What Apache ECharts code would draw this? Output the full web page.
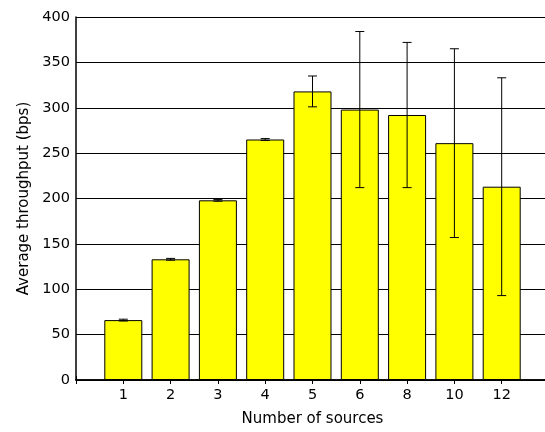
<!DOCTYPE html>
<html>
<head>
<meta charset="utf-8">
<script src="https://cdn.jsdelivr.net/npm/echarts@6/dist/echarts.min.js"></script>
<style>html,body{margin:0;padding:0;background:#fff;overflow:hidden;}#c{width:560px;height:432px;}</style>
</head>
<body>
<div id="c"></div>
<script>
var categories = ['1', '2', '3', '4', '5', '6', '8', '10', '12'];
var throughput = [66, 133, 198, 265, 318, 298, 292, 261, 213];
var errors = [1, 1, 1, 1, 17, 86, 80, 104, 120];
var yTicks = [0, 50, 100, 150, 200, 250, 300, 350, 400];

var barData = throughput.map(function (v, i) { return [i + 1, v]; });
var errData = throughput.map(function (v, i) { return [i + 1, v - errors[i], v + errors[i]]; });

var chart = echarts.init(document.getElementById('c'), null, {renderer: 'canvas'});
var font = 'DejaVu Sans, sans-serif';
chart.setOption({
  animation: false,
  backgroundColor: '#fff',
  grid: {left: 76, top: 17, width: 473, height: 365, containLabel: false},
  xAxis: [{
    type: 'value', min: 0, max: 10, interval: 1,
    name: 'Number of sources', nameLocation: 'middle', nameGap: 32,
    nameTextStyle: {fontFamily: font, fontSize: 15, color: '#000'},
    axisLine: {show: true, onZero: false, lineStyle: {color: '#000', width: 1.5}},
    axisTick: {show: true, inside: true, length: 4, lineStyle: {color: '#000'}},
    splitLine: {show: false},
    axisLabel: {
      margin: 8, fontFamily: font, fontSize: 14.5, color: '#000',
      formatter: function (v) { return (v >= 1 && v <= categories.length) ? categories[v - 1] : ''; }
    }
  }, {
    type: 'value', min: 0, max: 10, interval: 1, position: 'top',
    axisLine: {show: true, lineStyle: {color: '#000', width: 1.5}},
    axisTick: {show: true, inside: true, length: 4, lineStyle: {color: '#000'}},
    axisLabel: {show: false}, splitLine: {show: false}
  }],
  yAxis: {
    type: 'value', min: yTicks[0], max: yTicks[yTicks.length - 1], interval: 50,
    name: 'Average throughput (bps)', nameLocation: 'middle', nameGap: 43,
    nameTextStyle: {fontFamily: font, fontSize: 15, color: '#000'},
    axisLine: {show: true, lineStyle: {color: '#000', width: 1.5}},
    axisTick: {show: true, inside: true, length: 4, lineStyle: {color: '#000'}},
    axisLabel: {margin: 6, fontFamily: font, fontSize: 14.5, color: '#000'},
    splitLine: {show: true, lineStyle: {color: '#000', width: 1}}
  },
  series: [{
    type: 'bar', data: barData, barWidth: 38, xAxisIndex: 0,
    itemStyle: {color: '#ffff00', borderColor: '#000', borderWidth: 1}
  }, {
    type: 'custom', data: errData, xAxisIndex: 0, z: 10,
    renderItem: function (params, api) {
      var x = api.value(0);
      var lo = api.coord([x, api.value(1)]);
      var hi = api.coord([x, api.value(2)]);
      var hw = 4.5;
      var st = {stroke: '#000', lineWidth: 1};
      return {
        type: 'group',
        children: [
          {type: 'line', shape: {x1: hi[0], y1: hi[1], x2: lo[0], y2: lo[1]}, style: st},
          {type: 'line', shape: {x1: hi[0] - hw, y1: hi[1], x2: hi[0] + hw, y2: hi[1]}, style: st},
          {type: 'line', shape: {x1: lo[0] - hw, y1: lo[1], x2: lo[0] + hw, y2: lo[1]}, style: st}
        ]
      };
    }
  }]
});
</script>
</body>
</html>
